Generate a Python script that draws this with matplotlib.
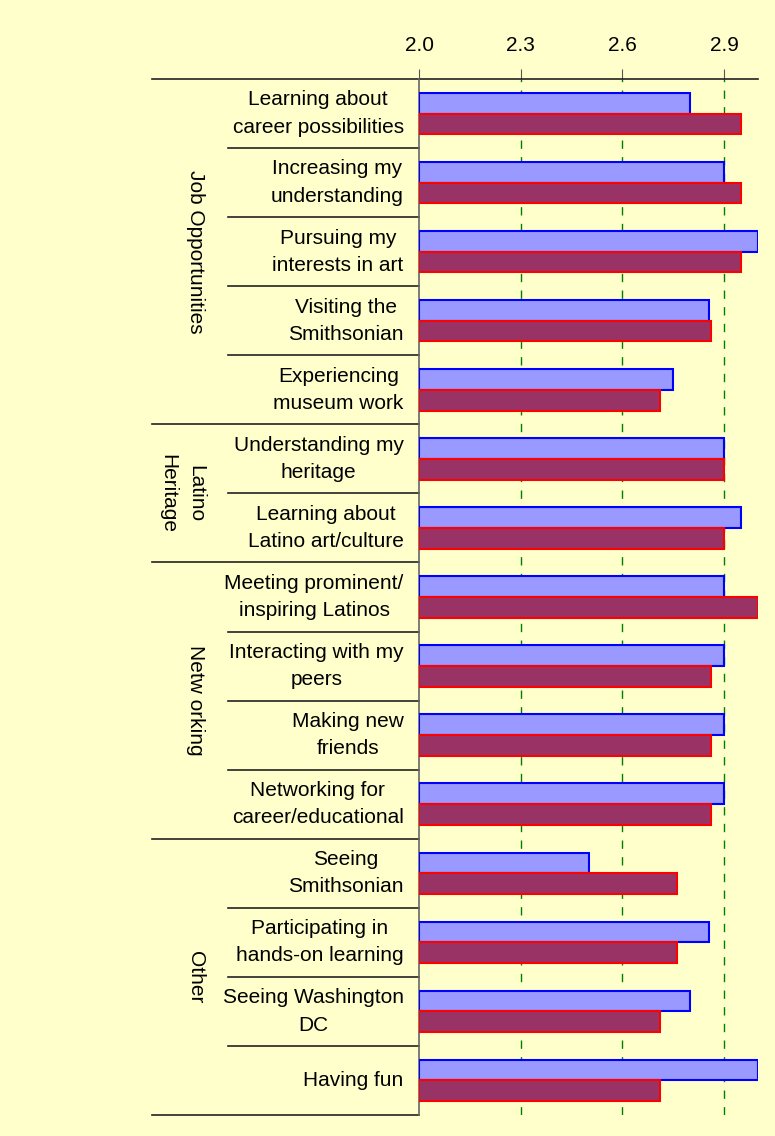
import numpy as np
import matplotlib.pyplot as plt
from matplotlib.transforms import blended_transform_factory

plt.rcParams['font.family'] = ['Liberation Sans', 'DejaVu Sans']

labels = ["Learning about\ncareer possibilities", "Increasing my\nunderstanding",
          "Pursuing my\ninterests in art", "Visiting the\nSmithsonian",
          "Experiencing\nmuseum work", "Understanding my\nheritage",
          "Learning about\nLatino art/culture", "Meeting prominent/\ninspiring Latinos",
          "Interacting with my\npeers", "Making new\nfriends",
          "Networking for\ncareer/educational", "Seeing\nSmithsonian",
          "Participating in\nhands-on learning", "Seeing Washington\nDC", "Having fun"]
blue_vals = [2.80, 2.90, 3.00, 2.855, 2.75, 2.90, 2.95, 2.90, 2.90, 2.90, 2.90,
             2.50, 2.855, 2.80, 3.00]
red_vals = [2.95, 2.95, 2.95, 2.86, 2.71, 2.90, 2.90, 3.00, 2.86, 2.86, 2.86,
            2.76, 2.76, 2.71, 2.71]
groups = ["Job Opportunities", "Latino\nHeritage", "Netw orking", "Other"]
group_sizes = [5, 2, 4, 4]
xticks = [2.0, 2.3, 2.6, 2.9]

bg = "#FFFFCC"
fig = plt.figure(figsize=(7.75, 11.36), dpi=100, facecolor=bg)
W, H = 775, 1136
x0, x1, y0, y1 = 419, 758, 79, 1115
ax = fig.add_axes([x0 / W, 1 - y1 / H, (x1 - x0) / W, (y1 - y0) / H])
ax.set_facecolor(bg)

n = len(labels)
y = np.arange(n)
h = 0.3
ax.barh(y - h / 2, np.array(blue_vals) - 2.0, left=2.0, height=h,
        color="#9999FF", edgecolor="#0000FF", linewidth=1.5, zorder=3)
ax.barh(y + h / 2, np.array(red_vals) - 2.0, left=2.0, height=h,
        color="#993366", edgecolor="#FF0000", linewidth=1.5, zorder=3)

ax.set_xlim(2.0, 3.0)
ax.set_ylim(n - 0.5, -0.5)
ax.xaxis.tick_top()
ax.set_xticks(xticks)
ax.set_xticklabels(["%.1f" % t for t in xticks], fontsize=15)
ax.tick_params(axis="x", direction="out", length=7, color="#555555", pad=10)
ax.set_yticks([])
for t in xticks[1:]:
    ax.axvline(t, color="#008000", linestyle=(0, (6, 6)), linewidth=1, zorder=1)

for s in ["right", "bottom", "top"]:
    ax.spines[s].set_visible(False)
ax.spines["left"].set_color("#666666")
ax.spines["left"].set_linewidth(1.2)

tr = blended_transform_factory(ax.transAxes, ax.transData)
full_x = (152 - x0) / (x1 - x0)
sub_x = (228 - x0) / (x1 - x0)

for i, lab in enumerate(labels):
    ax.text(-0.045, i, lab, transform=tr, ha="right", va="center",
            multialignment="center", fontsize=15, linespacing=1.55)

# top line and group separators
ax.plot([full_x, 1.0], [-0.5, -0.5], transform=tr, color="#222222", lw=1.2, clip_on=False)
start = 0
for g, size in zip(groups, group_sizes):
    end = start + size
    ax.plot([full_x, 0], [end - 0.5, end - 0.5], transform=tr, color="#222222",
            lw=1.2, clip_on=False)
    for k in range(start + 1, end):
        ax.plot([sub_x, 0], [k - 0.5, k - 0.5], transform=tr, color="#222222",
                lw=1.2, clip_on=False)
    gx = -0.70 if "\n" in g else -0.66
    ax.text(gx, (start + end - 1) / 2, g, transform=tr, rotation=270, ha="center",
            va="center", multialignment="center", fontsize=15, linespacing=1.55)
    start = end

plt.savefig("out.png", facecolor=bg)
